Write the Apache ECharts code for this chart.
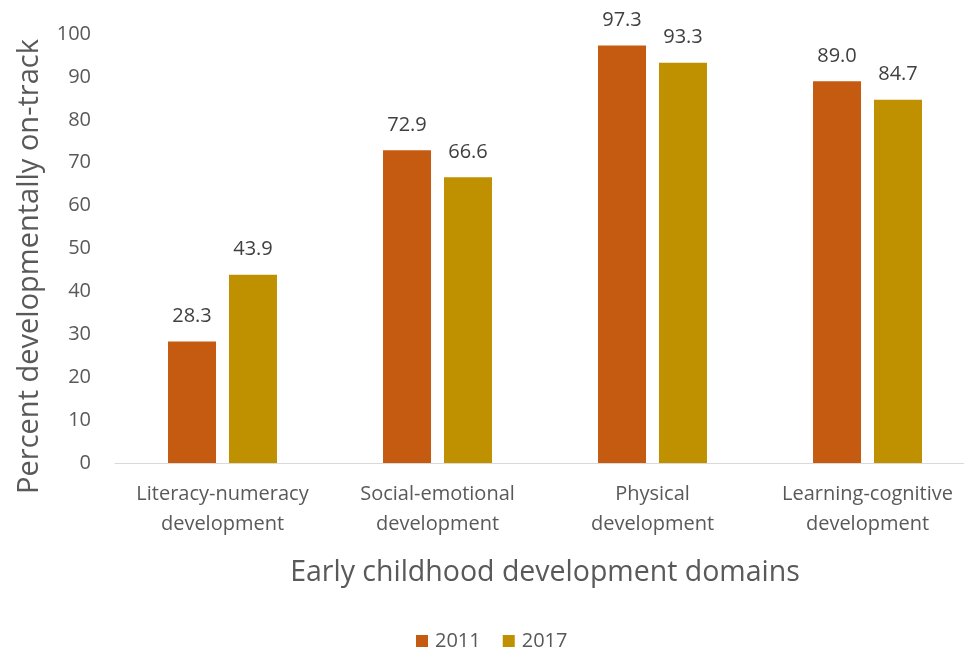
<!DOCTYPE html>
<html><head><meta charset="utf-8">
<script src="https://cdn.jsdelivr.net/npm/echarts@6/dist/echarts.min.js"></script>
<style>html,body{margin:0;padding:0;background:#fff;overflow:hidden;width:964px;height:655px}#c{width:986px;height:655px}</style>
</head><body><div id="c"></div>
<script>
const categories = ["Literacy-numeracy\ndevelopment","Social-emotional\ndevelopment","Physical\ndevelopment","Learning-cognitive\ndevelopment"];
const values2011 = [28.3, 72.9, 97.3, 89.0];
const values2017 = [43.9, 66.6, 93.3, 84.7];
const seriesNames = ["2011","2017"];
const FONT = "Open Sans";
const chart = echarts.init(document.getElementById('c'));
const lbl = {show:true, position:'top', distance:15, color:'#404040', fontSize:20, fontFamily:FONT, formatter: p => p.value.toFixed(1)};
chart.setOption({
  animation:false,
  textStyle:{fontFamily:FONT},
  grid:{left:115, top:34, right:11, bottom:192, containLabel:false},
  legend:{bottom:-1, left:411, itemWidth:12, itemHeight:12, itemGap:22, icon:'rect',
    textStyle:{fontSize:20, color:'#595959', fontFamily:FONT, padding:[0,0,0,2]}, data:seriesNames},
  xAxis:{type:'category', data:categories,
    axisLine:{lineStyle:{color:'#d9d9d9', width:1}}, axisTick:{show:false},
    axisLabel:{fontSize:20, color:'#595959', lineHeight:30, margin:16, fontFamily:FONT, interval:0},
    name:'Early childhood development domains', nameLocation:'middle', nameGap:95,
    nameTextStyle:{fontSize:28.5, color:'#595959', fontFamily:FONT}},
  yAxis:{type:'value', min:0, max:100, interval:10,
    splitLine:{show:false}, axisLine:{show:false}, axisTick:{show:false},
    axisLabel:{fontSize:20, color:'#595959', margin:24, fontFamily:FONT},
    name:'Percent developmentally on-track', nameLocation:'middle', nameGap:71,
    nameTextStyle:{fontSize:29, color:'#595959', fontFamily:FONT, padding:[0,36,0,0]}},
  series:[
    {name:seriesNames[0], type:'bar', data:values2011, barWidth:48, barGap:'27%', itemStyle:{color:'#C55A11'}, label:lbl},
    {name:seriesNames[1], type:'bar', data:values2017, barWidth:48, barGap:'27%', itemStyle:{color:'#BF9000'}, label:lbl}
  ]
});
</script></body></html>
